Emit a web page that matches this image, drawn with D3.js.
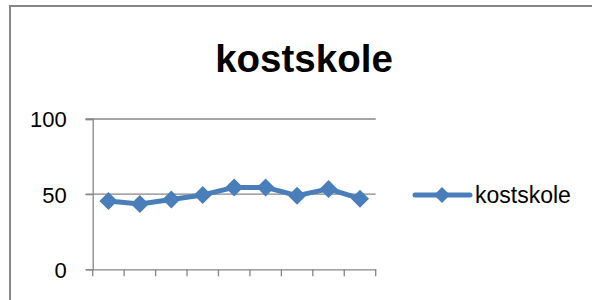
<!DOCTYPE html>
<html><head><meta charset="utf-8">
<script src="https://cdn.jsdelivr.net/npm/d3@7"></script>
<style>body{margin:0;background:#fff;} svg{display:block;}</style>
</head><body>
<svg id="c" width="592" height="300"></svg>
<script>
const title = "kostskole";
const seriesName = "kostskole";
const categories = ["1","2","3","4","5","6","7","8","9"];
const values = [45.5, 43.5, 46.5, 49.5, 54.5, 54.5, 49, 53.5, 47];
const yTicks = [0, 50, 100];

const svg = d3.select("#c");
const font = "'Liberation Sans', Arial, sans-serif";
const grey = "#868686";
const blue = "#4A7EBB";

// outer chart border
svg.append("rect").attr("x",10).attr("y",6).attr("width",600).attr("height",320)
  .attr("fill","none").attr("stroke",grey).attr("stroke-width",2);

const x = d3.scaleBand().domain(categories).range([92.7, 375.7]);
const y = d3.scaleLinear().domain([0,100]).range([269.3, 119]);

// gridlines
svg.append("g").selectAll("line").data(yTicks.filter(d=>d>0)).join("line")
  .attr("x1",85.5).attr("x2",375.7).attr("y1",d=>y(d)).attr("y2",d=>y(d))
  .attr("stroke",grey).attr("stroke-width",1.3);

// y axis
const yAxis = svg.append("g").attr("transform","translate(92.7,0)")
  .call(d3.axisLeft(y).tickValues(yTicks).tickSize(7).tickPadding(19));
yAxis.select(".domain").attr("stroke",grey).attr("stroke-width",1.3);
yAxis.selectAll(".tick line").attr("stroke",grey).attr("stroke-width",1.3);
yAxis.selectAll("text").attr("font-family",font).attr("font-size",22).attr("fill","#000").attr("dy","0.36em");

// x axis
const xAxis = svg.append("g").attr("transform","translate(0,269.3)")
  .call(d3.axisBottom(x).tickValues([]).tickSizeOuter(0));
xAxis.select(".domain").attr("stroke",grey).attr("stroke-width",1.3);
const bounds = categories.map(c=>x(c)).concat([x.range()[1]]);
xAxis.selectAll(".btick").data(bounds).join("line").attr("class","btick")
  .attr("x1",d=>d).attr("x2",d=>d).attr("y1",0).attr("y2",7)
  .attr("stroke",grey).attr("stroke-width",1.3);

// line
const cx = c => x(c) + x.bandwidth()/2;
const line = d3.line().x((d,i)=>cx(categories[i])).y(d=>y(d));
svg.append("path").datum(values).attr("d",line)
  .attr("fill","none").attr("stroke",blue).attr("stroke-width",5).attr("stroke-linejoin","round");

const diamond = (s) => `M0,${-s}L${s},0L0,${s}L${-s},0Z`;
svg.append("g").selectAll("path").data(values).join("path")
  .attr("d",diamond(9))
  .attr("transform",(d,i)=>`translate(${cx(categories[i])},${y(d)})`)
  .attr("fill",blue);

// title
svg.append("text").attr("x",304).attr("y",72).attr("text-anchor","middle")
  .attr("font-family",font).attr("font-weight","bold").attr("font-size",38.5)
  .text(title);

// legend
const lg = svg.append("g").attr("transform","translate(0,195)");
lg.append("line").attr("x1",415).attr("x2",470).attr("y1",0).attr("y2",0)
  .attr("stroke",blue).attr("stroke-width",5).attr("stroke-linecap","round");
lg.append("path").attr("d",diamond(8)).attr("transform","translate(442,0)").attr("fill",blue);
lg.append("text").attr("x",475).attr("y",0).attr("dy","0.36em")
  .attr("font-family",font).attr("font-size",23).text(seriesName);
</script>
</body></html>
